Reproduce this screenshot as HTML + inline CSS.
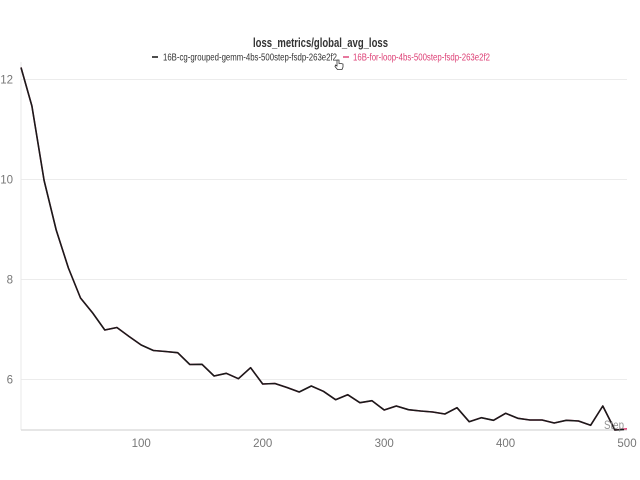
<!DOCTYPE html>
<html><head><meta charset="utf-8"><style>
html,body{margin:0;padding:0;background:#fff;}
svg{display:block;}
text{font-family:"Liberation Sans",sans-serif;}
</style></head><body>
<svg width="640" height="480" viewBox="0 0 640 480" xmlns="http://www.w3.org/2000/svg">
<rect width="640" height="480" fill="#fff"/>
<g stroke="#ececec" stroke-width="1">
<line x1="21" y1="79.5" x2="627" y2="79.5"/>
<line x1="21" y1="179.5" x2="627" y2="179.5"/>
<line x1="21" y1="279.5" x2="627" y2="279.5"/>
<line x1="21" y1="379.5" x2="627" y2="379.5"/>
</g>
<line x1="21" y1="62" x2="21" y2="430" stroke="#e8e8e8" stroke-width="1"/>
<line x1="21" y1="430" x2="627" y2="430" stroke="#dedede" stroke-width="1.5"/>
<g font-size="11.5" fill="#777" text-anchor="end">
<text x="13" y="83.5">12</text>
<text x="13" y="183.5">10</text>
<text x="13" y="283.5">8</text>
<text x="13" y="383.5">6</text>
</g>
<g font-size="11.5" fill="#777" text-anchor="middle">
<text x="141.2" y="447">100</text>
<text x="262.7" y="447">200</text>
<text x="384.2" y="447">300</text>
<text x="505.6" y="447">400</text>
<text x="627" y="447">500</text>
</g>
<polyline fill="none" stroke="#dd3f75" stroke-width="1.5" stroke-linejoin="round" points="21,67.5 31.9,106 44.1,180.5 56.2,230 68.4,268 80.5,298 92.7,313 104.8,330 116.9,327.5 129.1,336.5 141.2,345 153.4,350.5 165.5,351.5 177.7,352.7 189.8,364.5 202,364.3 214.1,376 226.3,373.3 238.4,378.7 250.6,367.7 262.7,384 274.9,383.5 287,387.5 299.2,392 311.3,386 323.4,391.3 335.6,399.7 347.7,394.7 359.9,402.7 372,400.7 384.2,410 396.3,406 408.5,409.7 420.6,411 432.7,412 444.9,414 457,407.7 469.2,421.7 481.3,417.7 493.5,420.3 505.6,413.3 517.8,418.3 529.9,420 542.1,420 554.2,423 566.3,420.3 578.5,421 590.6,425.3 602.8,406 614.9,430 627,428.8"/>
<polyline fill="none" stroke="#1a1a1a" stroke-width="1.6" stroke-linejoin="round" points="21,67.5 31.9,106 44.1,180.5 56.2,230 68.4,268 80.5,298 92.7,313 104.8,330 116.9,327.5 129.1,336.5 141.2,345 153.4,350.5 165.5,351.5 177.7,352.7 189.8,364.5 202,364.3 214.1,376 226.3,373.3 238.4,378.7 250.6,367.7 262.7,384 274.9,383.5 287,387.5 299.2,392 311.3,386 323.4,391.3 335.6,399.7 347.7,394.7 359.9,402.7 372,400.7 384.2,410 396.3,406 408.5,409.7 420.6,411 432.7,412 444.9,414 457,407.7 469.2,421.7 481.3,417.7 493.5,420.3 505.6,413.3 517.8,418.3 529.9,420 542.1,420 554.2,423 566.3,420.3 578.5,421 590.6,425.3 602.8,406 614.9,430 624,429.5"/>
<text x="604" y="429" font-size="12" fill="#888" fill-opacity="0.9" textLength="20" lengthAdjust="spacingAndGlyphs">Step</text>
<text x="320.5" y="47" font-size="13" font-weight="bold" fill="#333" text-anchor="middle" textLength="135" lengthAdjust="spacingAndGlyphs">loss_metrics/global_avg_loss</text>
<line x1="152" y1="57" x2="158" y2="57" stroke="#222" stroke-width="1.6"/>
<text x="163" y="60.5" font-size="10" fill="#333" textLength="174" lengthAdjust="spacingAndGlyphs">16B-cg-grouped-gemm-4bs-500step-fsdp-263e2f2</text>
<line x1="343" y1="57" x2="349" y2="57" stroke="#dd3f75" stroke-width="1.4"/>
<text x="353" y="60.5" font-size="10" fill="#dd3f75" textLength="137" lengthAdjust="spacingAndGlyphs">16B-for-loop-4bs-500step-fsdp-263e2f2</text>
<path d="M337,60 L337,66 L335.5,65 L335,66.5 L337.5,69.5 L342,69.5 L343,67 L343,64 L341,63.5 L339,63.5 L339,60 Z" fill="#fff" stroke="#333" stroke-width="0.8"/>
</svg>
</body></html>
